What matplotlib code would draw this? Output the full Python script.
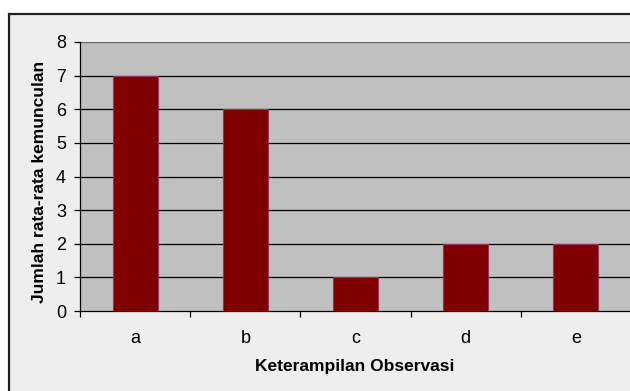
import matplotlib
matplotlib.use("Agg")
import matplotlib.pyplot as plt
from matplotlib.patches import Rectangle

categories = ["a", "b", "c", "d", "e"]
values = [7, 6, 1, 2, 2]
yticks = [0, 1, 2, 3, 4, 5, 6, 7, 8]
xlabel = "Keterampilan Observasi"
ylabel = "Jumlah rata-rata kemunculan"

plt.rcParams['font.family'] = ['Liberation Sans', 'DejaVu Sans']

W, H = 630, 391
fig = plt.figure(figsize=(W / 100, H / 100), dpi=100)
fig.patch.set_facecolor("white")

# outer chart frame
frame = Rectangle((9 / W, -0.1), 1.2, 1 - 14 / H + 0.1, transform=fig.transFigure,
                  facecolor="#EEEEEE", edgecolor="#222222", linewidth=1.6, zorder=-5)
fig.patches.append(frame)

ax = fig.add_axes([80 / W, 1 - 311 / H, 551 / W, (311 - 42) / H])
ax.set_zorder(1)
ax.set_facecolor("#C0C0C0")

x = list(range(len(categories)))
ax.bar(x, values, width=0.41, color="#800000", edgecolor="#993366", linewidth=0.8, zorder=3)

ax.set_xlim(-0.5, len(categories) - 0.5)
ax.set_ylim(0, 8)
ax.set_yticks(yticks)
ax.set_yticklabels([str(t) for t in yticks])
for t in yticks[1:]:
    ax.axhline(t, color="#000000" if t < 8 else "#666666", linewidth=0.9, zorder=1)

ax.set_xticks([i - 0.5 for i in range(len(categories) + 1)])
ax.set_xticklabels([""] * (len(categories) + 1))
ax.set_xticks(x, minor=True)
ax.set_xticklabels(categories, minor=True)
ax.tick_params(axis="x", which="minor", length=0, pad=14, labelsize=13)
ax.tick_params(axis="x", which="major", length=4, width=0.9, direction="out", color="black")
ax.tick_params(axis="y", length=4, width=0.9, direction="out", pad=6, labelsize=13, color="black")

for s in ["top", "right"]:
    ax.spines[s].set_visible(False)
ax.spines["left"].set_color("black")
ax.spines["bottom"].set_color("black")
ax.spines["left"].set_linewidth(0.9)
ax.spines["bottom"].set_linewidth(0.9)

fig.text(355 / W, 1 - 366 / H, xlabel, ha="center", va="center", fontsize=12.5, fontweight="bold")
fig.text(40 / W, 1 - 182 / H, ylabel, ha="center", va="center", rotation=90, fontsize=12.5, fontweight="bold")

fig.savefig("out.png", dpi=100)
